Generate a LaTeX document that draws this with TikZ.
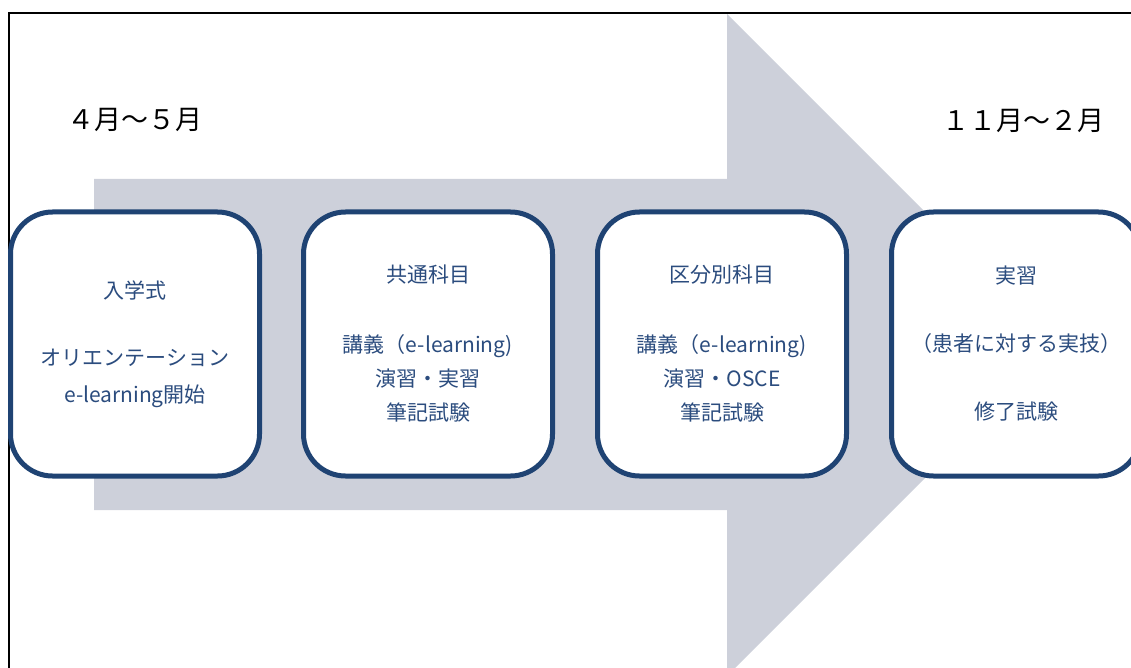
\documentclass[tikz,border=0pt]{standalone}
\usepackage{fontspec}
\setmainfont{Noto Sans CJK JP}
\definecolor{arrowgray}{RGB}{205,208,218}
\definecolor{boxblue}{RGB}{31,67,115}
\definecolor{textblue}{RGB}{43,76,126}
\tikzset{
  stagebox/.style={draw=boxblue, line width=5pt, fill=white, rounded corners=42pt,
    minimum width=249pt, minimum height=264pt, inner sep=0pt, text=textblue,
    align=center, font=\fontsize{21}{34}\selectfont},
  monthlbl/.style={text=black, inner sep=0pt, font=\fontsize{27}{30}\selectfont}
}
\begin{document}
\begin{tikzpicture}[x=1pt,y=-1pt]
\useasboundingbox (0,0) rectangle (1131,668);
\begin{scope}
\clip (0,0) rectangle (1131,668);
\fill[arrowgray] (94,179) -- (727,179) -- (727,14) -- (1058,345) -- (727,676) -- (727,510) -- (94,510) -- cycle;
\draw[line width=2pt] (9,668) -- (9,13) -- (1131,13);
\node[monthlbl] (m1) at (135,120) {４月～５月};
\node[monthlbl] (m2) at (1023,121) {１１月～２月};
\node[stagebox] (b1) at (135,344) {入学式\\[33pt]オリエンテーション\\[3pt]e-learning開始};
\node[stagebox] (b2) at (428,344) {共通科目\\[36pt]講義（e-learning)\\演習・実習\\筆記試験};
\node[stagebox] (b3) at (722,344) {区分別科目\\[36pt]講義（e-learning)\\演習・OSCE\\筆記試験};
\node[stagebox] (b4) at (1016,344) {実習\\[34pt]（患者に対する実技）\\[34pt]修了試験};
\end{scope}
\end{tikzpicture}
\end{document}
